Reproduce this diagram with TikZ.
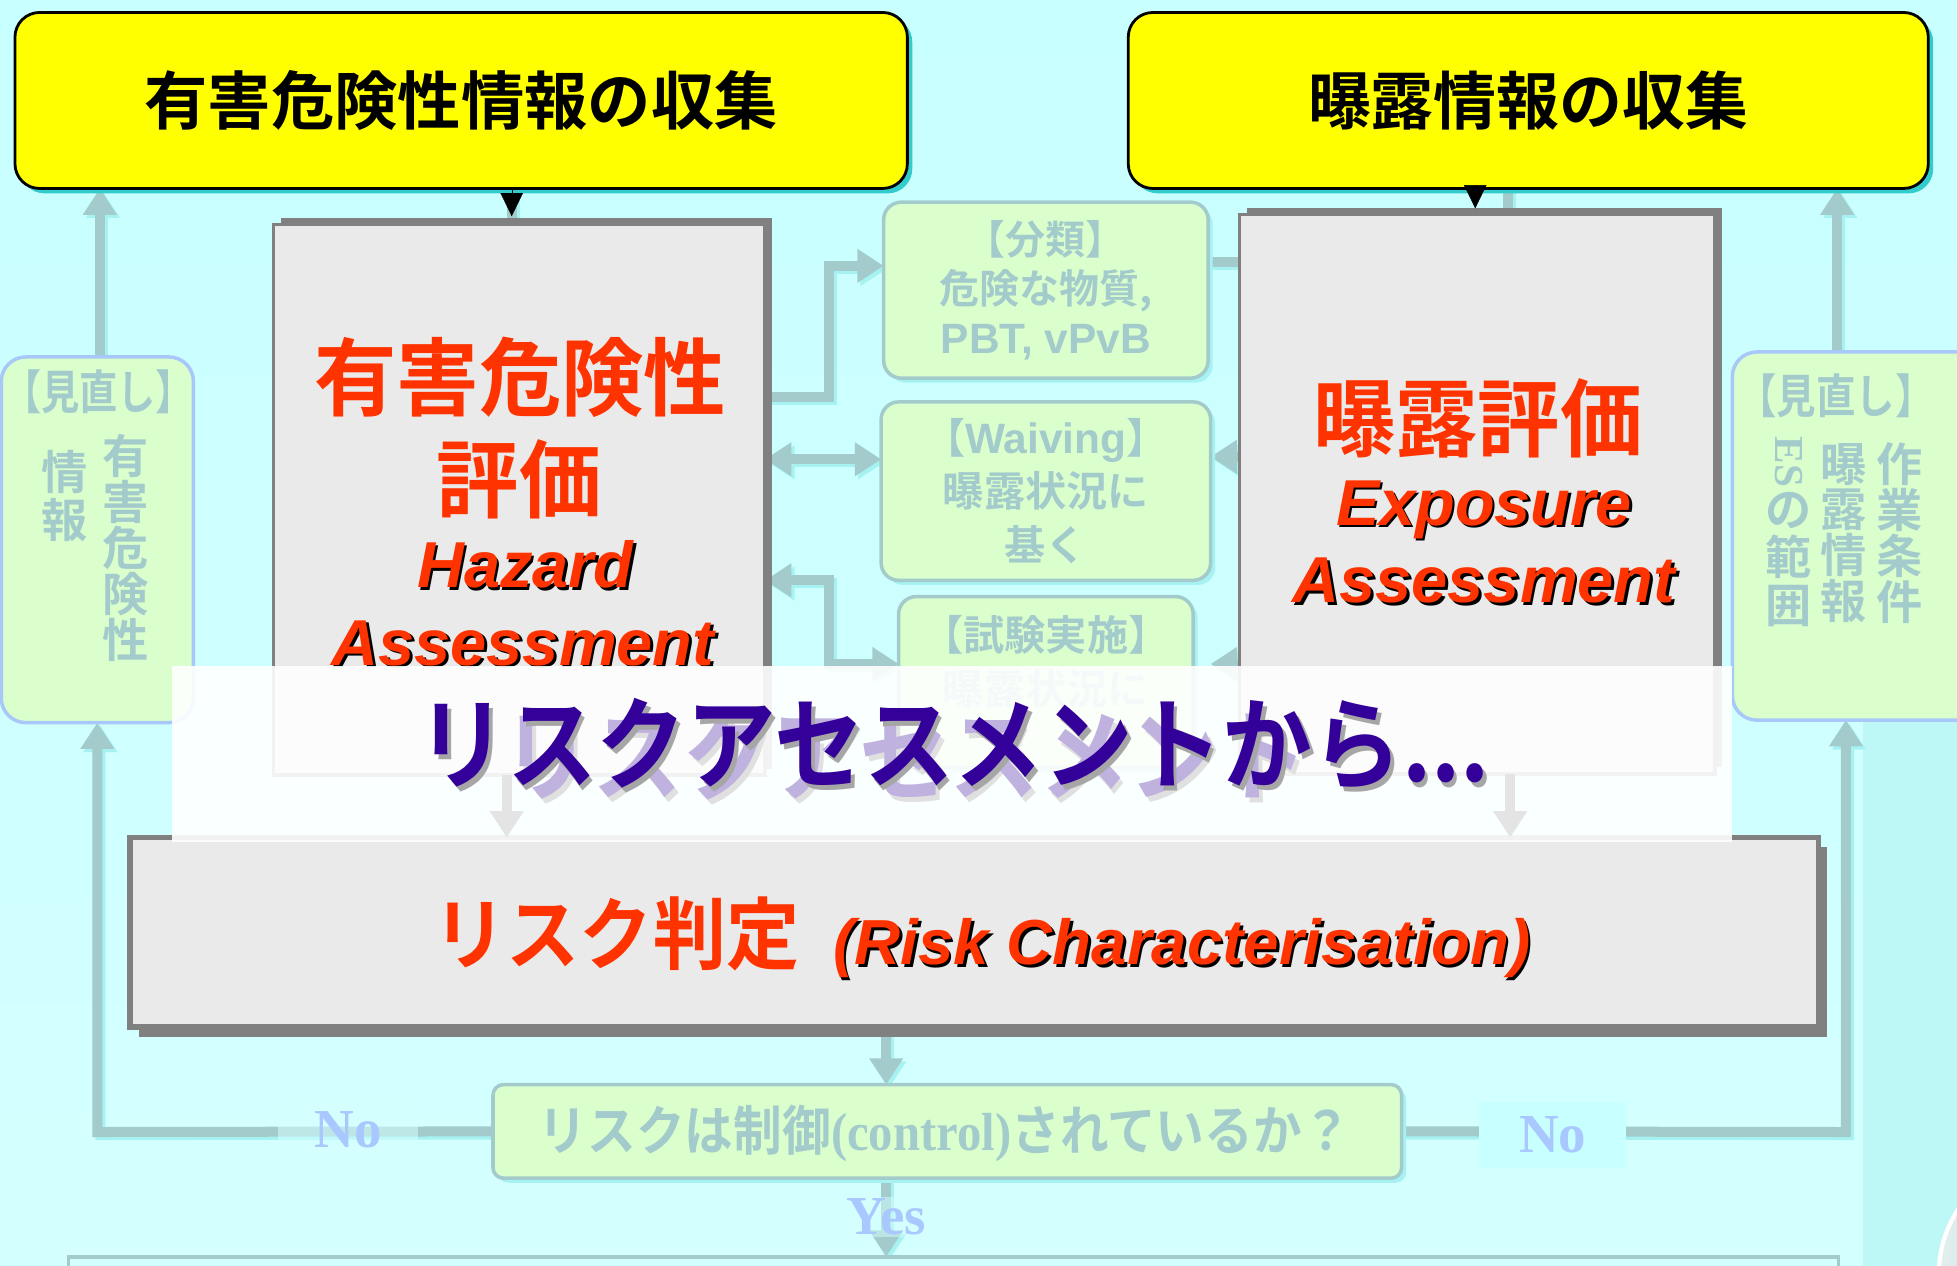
\documentclass[tikz,border=0pt]{standalone}
\usepackage{fontspec}
\usepackage{graphicx}
\setmainfont{Liberation Sans}
\newfontfamily\jp{Noto Sans CJK JP}[BoldFont={Noto Sans CJK JP Bold}]
\newfontfamily\jph{Noto Sans CJK JP}[BoldFont={Noto Sans CJK JP Bold},RawFeature=+halt]
\newfontfamily\tms{Liberation Serif}
\usetikzlibrary{arrows.meta,shadows}
\newdimen\uu \uu=0.35566pt
\newcommand\fsz[2]{\fontsize{#1\uu}{#2\uu}\selectfont}
\definecolor{bgA}{HTML}{C8FFFF}
\definecolor{bgB}{HTML}{D4FFFF}
\definecolor{stripC}{HTML}{BEF8F6}
\definecolor{ylw}{HTML}{FFFF00}
\definecolor{tealS}{HTML}{33CCCC}
\definecolor{boxF}{HTML}{EAEAEA}
\definecolor{boxG}{HTML}{808080}
\definecolor{redT}{HTML}{FF3300}
\definecolor{grnF}{HTML}{DAFFCC}
\definecolor{fade}{HTML}{A3CBCB}
\definecolor{lineS}{HTML}{A6F2F2}
\definecolor{revB}{HTML}{A8C8FA}
\definecolor{lblue}{HTML}{A8C8FF}
\definecolor{purp}{HTML}{330099}
\definecolor{lav}{HTML}{C0B2DE}
\definecolor{faintA}{HTML}{E4E4E4}
\pgfdeclarelayer{bglayer}
\pgfdeclarelayer{lnlayer}
\pgfsetlayers{bglayer,lnlayer,main}
\tikzset{
  sz/.style 2 args={minimum width=#1*0.0125cm, minimum height=#2*0.0125cm, inner sep=0pt, outer sep=0pt},
  ybox/.style={draw=black, line width=0.8pt, fill=ylw, rounded corners=7pt,
    drop shadow={shadow xshift=1.4pt, shadow yshift=-1.4pt, fill=tealS, opacity=1}},
  gbox/.style={draw=boxG, line width=1pt, fill=boxF,
    drop shadow={shadow xshift=2.1pt, shadow yshift=1.8pt, fill=boxG, opacity=1}},
  rbox/.style={draw=boxG, line width=1.6pt, fill=boxF,
    drop shadow={shadow xshift=2.5pt, shadow yshift=-2.8pt, fill=boxG, opacity=1}},
  mbox/.style={draw=fade, line width=1pt, fill=grnF, rounded corners=5pt,
    drop shadow={shadow xshift=1.3pt, shadow yshift=-1.3pt, fill=lineS, opacity=1}},
  revbox/.style={draw=revB, line width=1pt, fill=grnF, rounded corners=7pt},
  conn/.style={draw=fade, line width=2.85pt,
    preaction={draw=lineS, line width=2.85pt, transform canvas={shift={(2.5,2.5)}}}},
  arr/.style={-{Triangle[width=9.2pt,length=7.5pt]}},
  arrb/.style={{Triangle[width=9.2pt,length=7.5pt]}-{Triangle[width=9.2pt,length=7.5pt]}},
  blk/.style={black, line width=0.1pt, -{Triangle[width=6.4pt,length=6.6pt]}},
  fadetxt/.style={text=fade, align=center},
  redjp/.style={text=redT},
  eng/.style={anchor=base, font=\bfseries\itshape\fsz{52}{52}},
  lbl/.style={text=lblue, font=\tms\bfseries\fsz{44}{44}}
}
\begin{document}
\begin{tikzpicture}[x=0.0125cm,y=-0.0125cm, every node/.style={inner sep=0pt, outer sep=0pt}]
\useasboundingbox (0,0) rectangle (1568,1014);
\begin{pgfonlayer}{bglayer}
\shade[top color=bgA, bottom color=bgB] (0,0) rectangle (1568,1014);
\fill[stripC] (1493,578) rectangle (1568,1014);
\end{pgfonlayer}
\node[circle, sz={183}{183}, draw=white, line width=1.2pt, left color=white!70!fade, right color=fade!80!teal] (orb) at (1645,1020) {};

% top yellow boxes
\node[ybox, sz={715}{141}] (hc) at (369.5,80.5) {\jp\bfseries\fsz{50.7}{55}有害危険性情報の収集};
\node[ybox, sz={641}{141}] (ec) at (1224.5,80.5) {\jp\bfseries\fsz{50.4}{55}曝露情報の収集};

% assessment boxes
\node[gbox, sz={394}{441}] (haz) at (416,400.5) {};
\node[redjp, font=\jp\bfseries\fsz{68}{70}] (hz1) at (417,302) {\scalebox{0.97}[1]{有害危険性}};
\node[redjp, font=\jp\bfseries\fsz{68}{70}] (hz2) at (416,384) {\scalebox{0.97}[1]{評価}};
\node[eng, text=black] (hz3s) at (423,473) {Hazard};
\node[eng, text=redT] (hz3) at (421,471) {Hazard};
\node[eng, text=black] (hz4s) at (421,535) {Assessment};
\node[eng, text=redT] (hz4) at (419,533) {Assessment};

\node[gbox, sz={381}{448}] (exp) at (1183.5,396) {};
\node[redjp, font=\jp\bfseries\fsz{68}{70}] (ex1) at (1184,335) {\scalebox{0.97}[1]{曝露評価}};
\node[eng, text=black] (ex2s) at (1191,423) {Exposure};
\node[eng, text=redT] (ex2) at (1189,421) {Exposure};
\node[eng, text=black] (ex3s) at (1191,485) {Assessment};
\node[eng, text=redT] (ex3) at (1189,483) {Assessment};

% middle boxes
\node[mbox, sz={260}{141}, fadetxt, font=\jph\bfseries\fsz{32}{39.5}] (cls) at (838,232.5)
  {【分類】\\危険な物質,\\{\rmfamily\bfseries\fsz{34}{39.5}PBT, vPvB}};
\node[mbox, sz={264}{143}, fadetxt, font=\jph\bfseries\fsz{33}{43}] (wav) at (838,393.5)
  {【{\rmfamily\bfseries\fsz{34}{43}Waiving}】\\曝露状況に\\基く};
\node[mbox, sz={236}{137}] (tst) at (838,546.5) {};
\node[fadetxt, font=\jph\bfseries\fsz{33}{43}, anchor=north] (tstT) at (838,493) {【試験実施】\\曝露状況に};

% review boxes
\node[revbox, sz={154}{293}] (rev1) at (78,432.5) {};
\node[fadetxt, font=\jph\bfseries\fsz{34}{35}] (rv1a) at (79,314) {\scalebox{0.9}[1.1]{【見直し】}};
\node[fadetxt, font=\jp\bfseries\fsz{37}{37}] (rv1b) at (101,439) {有\\害\\危\\険\\性};
\node[fadetxt, font=\jp\bfseries\fsz{37}{39}] (rv1c) at (52,397.5) {情\\報};

\node[revbox, sz={200}{295}] (rev2) at (1488,429.5) {};
\node[fadetxt, font=\jph\bfseries\fsz{34}{35}] (rv2a) at (1471,317) {\scalebox{0.93}[1.1]{【見直し】}};
\node[fadetxt, font=\jp\bfseries\fsz{37}{36.7}] (rv2b) at (1522,427) {作\\業\\条\\件};
\node[fadetxt, font=\jp\bfseries\fsz{37}{36.7}] (rv2c) at (1477,427) {曝\\露\\情\\報};
\node[fadetxt, font=\tms\bfseries\fsz{33}{33}, rotate=-90] (rv2e) at (1433,370) {ES};
\node[fadetxt, font=\jp\bfseries\fsz{37}{38.5}] (rv2d) at (1433,448) {の\\範\\囲};

% risk characterisation
\node[rbox, sz={1353}{152}] (risk) at (780.5,747) {};
\node[redjp, font=\jp\bfseries\fsz{63}{63}] (rk1) at (494,748) {\scalebox{0.93}[1]{リスク判定}};
\node[eng, font=\bfseries\itshape\fsz{51}{51}, text=black] (rk2s) at (949,775) {(Risk Characterisation)};
\node[eng, font=\bfseries\itshape\fsz{51}{51}, text=redT] (rk2) at (947,773) {(Risk Characterisation)};

% question and bottom box
\node[mbox, rounded corners=3pt, sz={728}{75}] (q) at (759,906.5) {};
\node[fadetxt, font=\jp\bfseries\fsz{39}{39}] (qt) at (757,908) {\scalebox{1}[1.1]{リスクは制御{\tms(control)}されているか？}};
\node[draw=fade, line width=1pt, fill=bgB, sz={1418}{120}] (bot) at (764,1067) {};

% connectors
\coordinate (kA) at (410,0);
\coordinate (kB) at (1182,0);
\coordinate (kC) at (1208,0);
\coordinate (k1) at (664,318);
\coordinate (k2) at (664,213);
\coordinate (k3) at (664,368);
\coordinate (k3b) at (980,366);
\coordinate (k4) at (664,465);
\coordinate (k5) at (664,532);
\coordinate (k6) at (980,210);
\coordinate (k9) at (406,0);
\coordinate (k9b) at (1210,0);
\coordinate (k10) at (80,0);
\coordinate (k11) at (1472,0);
\coordinate (k12) at (710,0);
\coordinate (k13) at (78,907);
\coordinate (k14) at (1479,907);
\begin{pgfonlayer}{lnlayer}
\draw[conn] (hc.south -| kA) -- (haz.north -| kA);
\draw[conn] (ec.south -| kC) -- (exp.north -| kC);
\draw[conn,arr] (haz.east |- k1) -- (k1) -- (k2) -- (cls.west |- k2);
\draw[conn,arrb] (haz.east |- k3) -- (wav.west |- k3);
\draw[conn,arrb] (haz.east |- k4) -- (k4) -- (k5) -- (tst.west |- k5);
\draw[conn] (cls.east |- k6) -- (exp.west |- k6);
\draw[conn,arr] (exp.west |- k3b) -- (wav.east |- k3b);
\draw[conn,arr,shorten >=5pt] (exp.west |- k5) -- (tst.east |- k5);
\draw[conn,arr] (rev1.north -| k10) -- (hc.south -| k10);
\draw[conn,arr] (rev2.north -| k11) -- (ec.south -| k11);
\draw[conn,arr] (risk.south -| k12) -- (q.north -| k12);
\draw[conn,arr] (q.south -| k12) -- (bot.north -| k12);
\draw[conn,arr] (q.west) -- (k13) -- (rev1.south -| k13);
\draw[conn,arr] (q.east) -- (k14) -- (rev2.south -| k14);
\end{pgfonlayer}
\draw[blk] (hc.south -| kA) -- ([yshift=2.4pt]haz.north -| kA);
\draw[blk] (ec.south -| kB) -- ([yshift=1.8pt]exp.north -| kB);

% labels
\node[lbl, fill=bgB, fill opacity=0.55, text opacity=1, sz={112}{53}] (no1) at (279,905.5) {No};
\node[lbl, fill=bgA, sz={118}{53}] (no2) at (1244,909.5) {No};
\node[lbl, fill=bgB, fill opacity=0.5, text opacity=1, sz={110}{32}] (yes) at (710,975) {Yes};

% overlay
\node[fill=white, fill opacity=0.9, sz={1250}{141}] (ovl) at (763,604.5) {};
\draw[draw=faintA, line width=2.85pt, arr] (haz.south -| k9) -- (risk.north -| k9);
\draw[draw=faintA, line width=2.85pt, arr] (exp.south -| k9b) -- (risk.north -| k9b);
\node[font=\jp\bfseries\fsz{76}{76}, text=black!12, anchor=west] (ttl2s) at (406,609) {\scalebox{0.945}[1.06]{リスクアセスメント}};
\node[font=\jp\bfseries\fsz{76}{76}, text=lav, anchor=west] (ttl2) at (403,605) {\scalebox{0.945}[1.06]{リスクアセスメント}};
\node[font=\jp\bfseries\fsz{76}{76}, text=black!35] (ttl1s) at (767,600) {\scalebox{0.945}[1.06]{リスクアセスメントから...}};
\node[font=\jp\bfseries\fsz{76}{76}, text=purp] (ttl1) at (764,596) {\scalebox{0.945}[1.06]{リスクアセスメントから...}};
\end{tikzpicture}
\end{document}
